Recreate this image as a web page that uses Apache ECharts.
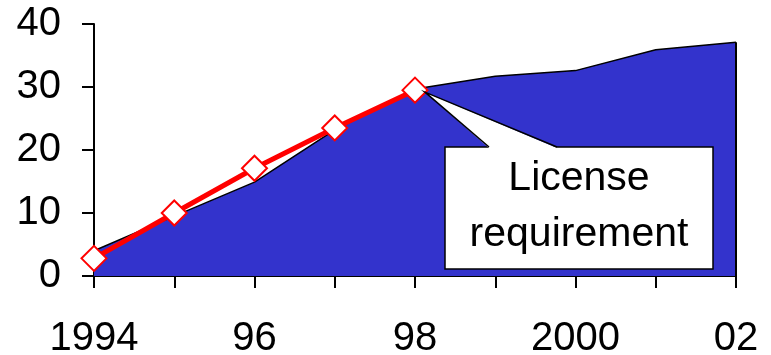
<!DOCTYPE html>
<html>
<head>
<meta charset="utf-8">
<script src="https://cdn.jsdelivr.net/npm/echarts@6/dist/echarts.min.js"></script>
<style>
  html, body { margin: 0; padding: 0; background: #fff; }
  #chart { width: 771px; height: 355px; }
</style>
</head>
<body>
<div id="chart"></div>
<script>
// Years on the category axis and the labels shown under them
const years = ['1994', '1995', '1996', '1997', '1998', '1999', '2000', '2001', '2002'];
const yearLabels = ['1994', '', '96', '', '98', '', '2000', '', '02'];
// Total (area) and licensed (line) values
const totalValues = [4, 9.5, 14.9, 23.2, 29.7, 31.7, 32.6, 35.9, 37.1];
const licensedValues = [2.8, 10, 17.1, 23.5, 29.5];
const yTicks = [0, 10, 20, 30, 40];
const calloutText = ['License', 'requirement'];

const FONT = 'Liberation Sans, Arial, sans-serif';
const chart = echarts.init(document.getElementById('chart'));

const lastIdx = years.length - 1;

chart.setOption({
  animation: false,
  grid: { left: 94, right: 35, top: 24, bottom: 79, containLabel: false, outerBoundsMode: 'none' },
  xAxis: {
    type: 'category',
    data: years,
    boundaryGap: false,
    axisLine: { show: true, lineStyle: { color: '#000', width: 2 } },
    axisTick: { show: true, inside: false, length: 12, interval: 0, lineStyle: { color: '#000', width: 2 } },
    axisLabel: {
      interval: 0,
      margin: 43,
      color: '#000',
      fontFamily: FONT,
      fontSize: 40,
      formatter: (v, i) => yearLabels[i]
    },
    splitLine: { show: false }
  },
  yAxis: {
    type: 'value',
    min: yTicks[0],
    max: yTicks[yTicks.length - 1],
    interval: 10,
    axisLine: { show: true, lineStyle: { color: '#000', width: 2 } },
    axisTick: { show: true, length: 12, lineStyle: { color: '#000', width: 2 } },
    axisLabel: { margin: 33, color: '#000', fontFamily: FONT, fontSize: 40 },
    splitLine: { show: false }
  },
  series: [
    {
      type: 'line',
      data: totalValues,
      symbol: 'none',
      lineStyle: { color: '#000', width: 1.5 },
      areaStyle: { color: '#3333CC', opacity: 1 },
      z: 1,
      markLine: {
        silent: true,
        symbol: 'none',
        label: { show: false },
        lineStyle: { color: '#000', width: 2, type: 'solid' },
        data: [[
          { coord: [years[lastIdx], 0] },
          { coord: [years[lastIdx], totalValues[lastIdx]] }
        ]]
      }
    },
    {
      type: 'line',
      data: licensedValues,
      symbol: 'diamond',
      symbolSize: [25, 25],
      lineStyle: { color: '#FF0000', width: 5 },
      itemStyle: { color: '#fff', borderColor: '#FF0000', borderWidth: 2 },
      z: 3
    }
  ]
});

// Callout pointing to the last licensed point
const tipIdx = licensedValues.length - 1;
const tip = chart.convertToPixel({ seriesIndex: 1 }, [tipIdx, licensedValues[tipIdx]]);
const box = { x: 445, y: 147, w: 268, h: 122 };
const baseL = 489, baseR = 557;

chart.setOption({
  graphic: [
    {
      type: 'rect',
      shape: { x: box.x, y: box.y, width: box.w, height: box.h },
      style: { fill: '#fff', stroke: '#000', lineWidth: 1.5 },
      z: 10
    },
    {
      type: 'polygon',
      shape: { points: [[baseL, box.y + 1], [tip[0] + 10, tip[1] + 2], [baseR, box.y + 1]] },
      style: { fill: '#fff', stroke: null },
      z: 11
    },
    {
      type: 'polyline',
      shape: { points: [[baseL, box.y], [tip[0] + 10, tip[1] + 2], [baseR, box.y]] },
      style: { stroke: '#000', lineWidth: 1.5, fill: null },
      z: 12
    },
    {
      type: 'text',
      style: {
        text: calloutText[0],
        x: box.x + box.w / 2, y: 179,
        align: 'center', verticalAlign: 'middle',
        font: '41px ' + FONT, fill: '#000'
      },
      z: 13
    },
    {
      type: 'text',
      style: {
        text: calloutText[1],
        x: box.x + box.w / 2, y: 235,
        align: 'center', verticalAlign: 'middle',
        font: '41px ' + FONT, fill: '#000'
      },
      z: 13
    }
  ]
});
</script>
</body>
</html>
